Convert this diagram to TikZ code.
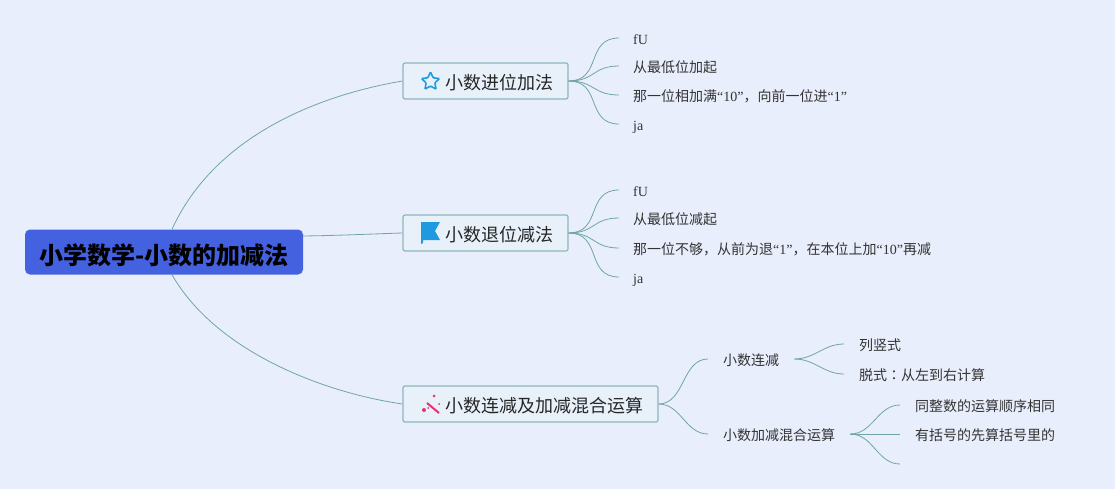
\documentclass[tikz,border=0pt]{standalone}
\usepackage{fontspec}
\setmainfont{Liberation Serif}
\newfontfamily\cjk{Noto Sans CJK SC}
\newfontfamily\cjktc{Noto Sans CJK TC}
\usetikzlibrary{shapes.geometric}
\definecolor{paper}{HTML}{E9EEFC}
\definecolor{rootblue}{HTML}{4461E0}
\definecolor{boxfill}{HTML}{E8F1FA}
\definecolor{boxline}{HTML}{8FB6BC}
\definecolor{twig}{HTML}{6FA5A5}
\definecolor{iconblue}{HTML}{1F9AE0}
\definecolor{iconpink}{HTML}{E8326E}
\newcommand{\en}[1]{{\rmfamily #1}}
\tikzset{
  rootbox/.style={
    shape = rectangle,
    rounded corners = 5pt,
    fill = rootblue,
    minimum width = 278pt,
    minimum height = 45pt,
    text height = 26pt,
    text depth = 1.8pt,
    font = \cjk\fontsize{24}{28}\selectfont\bfseries,
    text = black
  },
  branch/.style={
    shape = rectangle,
    rounded corners = 2pt,
    draw = boxline,
    line width = 1.2pt,
    fill = boxfill,
    minimum height = 36pt,
    inner xsep = 0pt,
    inner ysep = 0pt,
    text height = 18pt,
    text depth = 1.4pt,
    align = right,
    font = \cjk\fontsize{18}{22}\selectfont,
    text = black!85
  },
  leaf/.style={
    anchor = west,
    inner xsep = 14pt,
    inner ysep = 2pt,
    text height = 14pt,
    text depth = 1.5pt,
    font = \cjk\fontsize{14}{17}\selectfont,
    text = black!80
  },
  twigline/.style={
    draw = twig,
    line width = 0.8pt
  },
  stem/.style={
    draw = twig,
    line width = 0.8pt
  }
}
\begin{document}
\begin{tikzpicture}[x=1pt,y=-1pt]
  \fill[paper] (0,0) rectangle (1115,489);
  % main nodes
  \node[rootbox] (root) at (164,252) {小学数学-小数的加减法};
  \node[branch, minimum width=165pt, text width=135pt] (add) at (485.5,81) {小数进位加法};
  \node[branch, minimum width=165pt, text width=135pt] (sub) at (485.5,233) {小数退位减法};
  \node[branch, minimum width=255pt, text width=225pt] (mix) at (530.5,404) {小数连减及加减混合运算};
  % leaves
  \foreach \name/\y/\txt in {a1/38/\en{fU}, a2/66/从最低位加起, a3/95/那一位相加满\en{“10”}，向前一位进\en{“1”}, a4/124/\en{ja}}{
    \node[leaf] (\name) at (619,\y) {\txt};
    \draw[twigline] (add.east) to[out=0,in=180,looseness=1.3] (\name.west);
  }
  \foreach \name/\y/\txt in {b1/190/\en{fU}, b2/218/从最低位减起, b3/248/那一位不够，从前为退\en{“1”}，在本位上加\en{“10”}再减, b4/277/\en{ja}}{
    \node[leaf] (\name) at (619,\y) {\txt};
    \draw[twigline] (sub.east) to[out=0,in=180,looseness=1.3] (\name.west);
  }
  \node[leaf, inner xsep=15pt] (m1) at (708,359) {小数连减};
  \node[leaf, inner xsep=15pt] (m2) at (708,434) {小数加减混合运算};
  \draw[twigline] (mix.east) to[out=0,in=180] (m1.west);
  \draw[twigline] (mix.east) to[out=0,in=180] (m2.west);
  \node[leaf, inner xsep=15pt] (c1) at (844,344) {列竖式};
  \node[leaf, inner xsep=15pt] (c2) at (844,374) {脱式{\cjktc：}从左到右计算};
  \draw[twigline] (m1.east) to[out=0,in=180] (c1.west);
  \draw[twigline] (m1.east) to[out=0,in=180] (c2.west);
  \node[leaf, inner xsep=15pt] (d1) at (900,405) {同整数的运算顺序相同};
  \node[leaf, inner xsep=15pt] (d2) at (900,434) {有括号的先算括号里的};
  \coordinate (d3) at (900,464);
  \draw[twigline] (m2.east) to[out=0,in=180] (d1.west);
  \draw[twigline] (m2.east) -- (d2.west);
  \draw[twigline] (m2.east) to[out=0,in=180] (d3);
  % root to branches
  \draw[stem] ([xshift=8pt]root.north) .. controls (215,135) and (320,95) .. (add.west);
  \draw[stem] ([yshift=16pt]root.east) .. controls (340,235.5) and (370,234) .. (sub.west);
  \draw[stem] ([xshift=8pt]root.south) .. controls (215,350) and (320,392) .. (mix.west);
  % icons
  \node[star, star points=5, star point ratio=2.1, draw=iconblue, line width=1.6pt, rounded corners=1pt, minimum size=19pt, inner sep=0pt] (staricon) at (430.5,81.5) {};
  \fill[iconblue] (421,222) -- (440,222) -- (435,231) -- (440,240) -- (423,240) -- (423,243) -- (421,244) -- cycle;
  \draw[iconpink, line width=2pt] (427,403) -- (439,413);
  \fill[iconpink] (434,396) circle (1.5pt) (439,404) circle (1pt) (424,410) circle (2pt) (428,408) circle (1pt);
\end{tikzpicture}
\end{document}
